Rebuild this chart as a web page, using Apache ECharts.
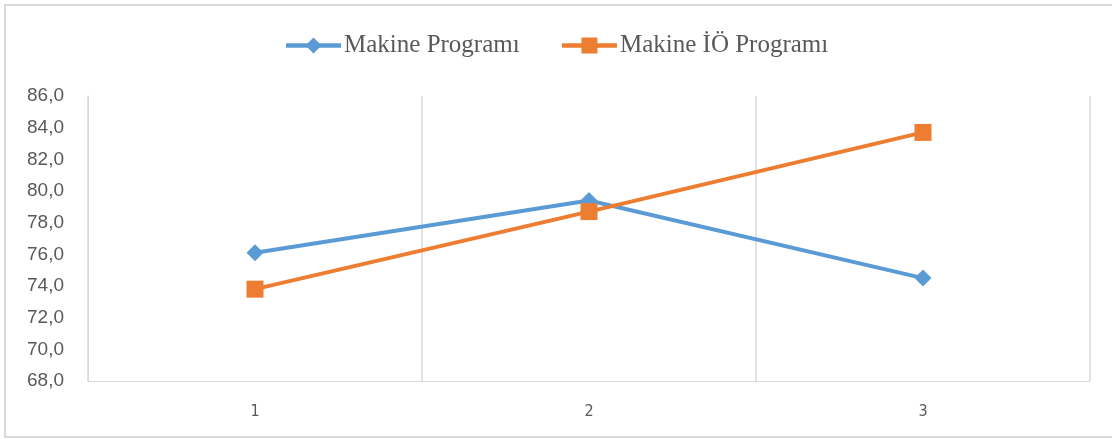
<!DOCTYPE html>
<html>
<head>
<meta charset="utf-8">
<script src="https://cdn.jsdelivr.net/npm/echarts@6/dist/echarts.min.js"></script>
<style>
  html, body { margin: 0; padding: 0; background: #fff; }
  #chart { width: 1112px; height: 439px; }
</style>
</head>
<body>
<div id="chart"></div>
<script>
// Categories and series values
const categories = ['1', '2', '3'];
const makineProgrami = [76.1, 79.4, 74.5];
const makineIOProgrami = [73.8, 78.7, 83.7];
const seriesNames = ['Makine Programı', 'Makine İÖ Programı'];

const chart = echarts.init(document.getElementById('chart'));

const fmt = v => v.toFixed(1).replace('.', ',');

chart.setOption({
  animation: false,
  backgroundColor: '#ffffff',
  graphic: [{
    type: 'rect',
    shape: { x: 5, y: 5, width: 1120, height: 432 },
    style: { fill: 'none', stroke: '#d9d9d9', lineWidth: 2 },
    silent: true
  }],
  legend: {
    top: 28,
    left: 'center',
    itemGap: 40,
    itemWidth: 55,
    itemHeight: 20,
    textStyle: { fontFamily: 'Liberation Serif', fontSize: 25, color: '#595959', padding: [0, 0, 0, -2] },
    lineStyle: { width: 4.5 },
    data: seriesNames
  },
  grid: { left: 88, right: 22, top: 96, bottom: 58 },
  xAxis: {
    type: 'category',
    data: categories,
    boundaryGap: true,
    axisLine: { lineStyle: { color: '#d9d9d9', width: 1 } },
    axisTick: { show: false },
    axisLabel: { fontFamily: 'DejaVu Sans Condensed', fontSize: 16, color: '#595959', margin: 23 },
    splitLine: { show: true, lineStyle: { color: '#d9d9d9', width: 1.5 } }
  },
  yAxis: {
    type: 'value',
    min: 68,
    max: 86,
    interval: 2,
    axisLine: { show: true, lineStyle: { color: '#d9d9d9', width: 1 } },
    axisTick: { show: false },
    splitLine: { show: false },
    axisLabel: {
      fontFamily: 'Liberation Sans', fontSize: 19, color: '#595959', margin: 24,
      formatter: fmt
    }
  },
  series: [
    {
      name: seriesNames[0],
      type: 'line',
      data: makineProgrami,
      color: '#5b9bd5',
      symbol: 'diamond',
      symbolSize: 17,
      lineStyle: { width: 4 },
      itemStyle: { color: '#5b9bd5' }
    },
    {
      name: seriesNames[1],
      type: 'line',
      data: makineIOProgrami,
      color: '#ed7d31',
      symbol: 'rect',
      symbolSize: 17,
      lineStyle: { width: 4 },
      itemStyle: { color: '#ed7d31' }
    }
  ]
});
</script>
</body>
</html>
